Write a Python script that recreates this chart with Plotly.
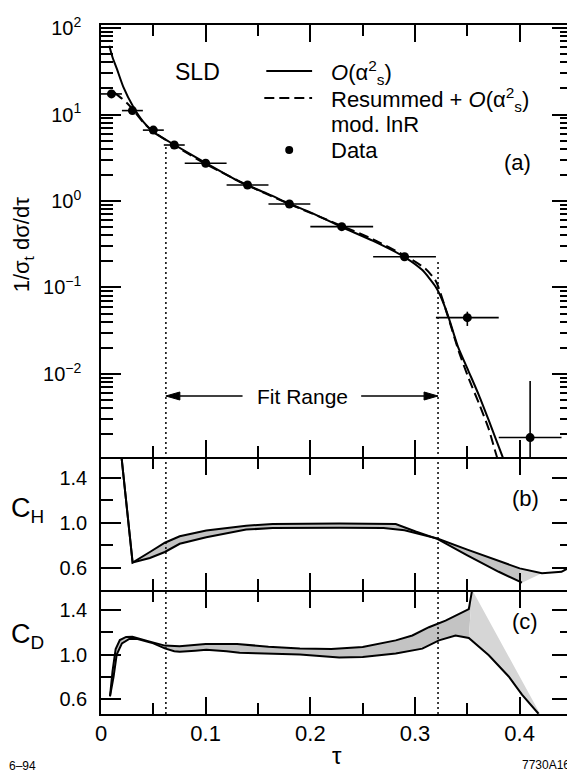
import plotly.graph_objects as go
from plotly.subplots import make_subplots

# ---------------- data ----------------
# panel (a): SLD data points
tau_data = [0.01, 0.03, 0.05, 0.07, 0.10, 0.14, 0.18, 0.23, 0.29, 0.35, 0.41]
y_data = [17.3, 11.1, 6.6, 4.44, 2.73, 1.53, 0.923, 0.505, 0.227, 0.0448, 0.00184]
bin_lo = [0.0, 0.02, 0.04, 0.06, 0.08, 0.12, 0.16, 0.20, 0.26, 0.32, 0.38]
bin_hi = [0.02, 0.04, 0.06, 0.08, 0.12, 0.16, 0.20, 0.26, 0.32, 0.38, 0.44]
y_err_up = [0.3, 0.2, 0.1, 0.07, 0.04, 0.03, 0.02, 0.012, 0.008, 0.0077, 0.00646]
y_err_dn = [0.3, 0.2, 0.1, 0.07, 0.04, 0.03, 0.02, 0.012, 0.008, 0.0089, 0.00134]

# O(alpha_s^2) curve
nlo_tau = [0.0079, 0.011, 0.015, 0.0213, 0.0308, 0.0403, 0.0498, 0.0705, 0.1007, 0.1324,
           0.16, 0.18, 0.20, 0.23, 0.26, 0.29, 0.307, 0.3197, 0.326, 0.3324, 0.341,
           0.3514, 0.361, 0.3705, 0.3838, 0.39]
nlo_val = [62.4, 46.0, 34.2, 20.9, 12.3, 8.26, 6.3, 4.44, 2.73, 1.67,
           1.2, 0.93, 0.74, 0.50, 0.345, 0.225, 0.159, 0.102, 0.0717, 0.044, 0.0207,
           0.0106, 0.0057, 0.0029, 0.00109, 0.0007]

# Resummed + O(alpha_s^2), mod. lnR curve
res_tau = [0.013, 0.02, 0.025, 0.03, 0.04, 0.05, 0.07, 0.10, 0.14, 0.18, 0.23, 0.26,
           0.29, 0.31, 0.32, 0.3324, 0.342, 0.3514, 0.361, 0.3705, 0.3784, 0.385]
res_val = [17.8, 15.3, 13.5, 11.6, 8.2, 6.35, 4.4, 2.68, 1.52, 0.92, 0.515, 0.36,
           0.235, 0.165, 0.118, 0.0425, 0.018, 0.0088, 0.0046, 0.0023, 0.00109, 0.0007]

# panel (b): C_H band edges
ch_a_tau = [0.0192, 0.0302, 0.0467, 0.061, 0.0752, 0.1006, 0.1387, 0.164, 0.2276, 0.2816,
            0.3006, 0.3213, 0.35, 0.38, 0.4022]
ch_a_val = [1.62, 0.648, 0.742, 0.824, 0.882, 0.932, 0.976, 0.99, 0.996, 0.99,
            0.924, 0.859, 0.712, 0.566, 0.469]
ch_b_tau = [0.0192, 0.0302, 0.0467, 0.061, 0.0752, 0.1006, 0.1387, 0.164, 0.2276, 0.27,
            0.29, 0.3213, 0.35, 0.38, 0.40, 0.4213, 0.44, 0.4514]
ch_b_val = [1.62, 0.648, 0.689, 0.742, 0.815, 0.873, 0.941, 0.955, 0.958, 0.955,
            0.935, 0.862, 0.763, 0.66, 0.596, 0.552, 0.566, 0.625]

# panel (c): C_D band edges
cd_u_tau = [0.0086, 0.011, 0.014, 0.018, 0.024, 0.03, 0.045, 0.061, 0.075, 0.10, 0.13,
            0.16, 0.19, 0.22, 0.25, 0.2816, 0.2975, 0.3133, 0.3292, 0.3514, 0.3546]
cd_u_val = [0.626, 0.85, 1.05, 1.13, 1.158, 1.16, 1.12, 1.08, 1.075, 1.095, 1.095,
            1.07, 1.055, 1.05, 1.068, 1.127, 1.171, 1.245, 1.304, 1.407, 1.58]
cd_l_tau = [0.0086, 0.012, 0.015, 0.02, 0.027, 0.035, 0.05, 0.061, 0.07, 0.0752, 0.09,
            0.1006, 0.12, 0.1324, 0.148, 0.19, 0.2276, 0.25, 0.2816, 0.307, 0.3229,
            0.3387, 0.3514, 0.3705, 0.3895, 0.4022, 0.418]
cd_l_val = [0.626, 0.8, 1.0, 1.1, 1.14, 1.14, 1.1, 1.055, 1.03, 1.024, 1.035,
            1.044, 1.03, 1.015, 1.012, 1.0, 0.973, 0.979, 1.009, 1.053, 1.127,
            1.171, 1.148, 0.994, 0.803, 0.64, 0.469]
cd_edge_tau = [0.3546, 0.42]
cd_edge_val = [1.58, 0.46]

fit_range = [0.062, 0.322]

# ticks
log_tickvals = [0.01, 0.1, 1, 10, 100]
log_ticktext = ["10<sup>\u22122</sup>", "10<sup>\u22121</sup>", "10<sup>0</sup>",
                "10<sup>1</sup>", "10<sup>2</sup>"]
log_minor = [m * 10 ** e for e in (-3, -2, -1, 0, 1) for m in range(2, 10)]
c_tickvals = [0.6, 1.0, 1.4]
c_ticktext = ["0.6", "1.0", "1.4"]
c_minor = [0.8, 1.2]

# ---------------- layout helpers (screen pixel -> paper) ----------------
OFF = 8  # page body margin
L, R, T, B = 101, 574, 25, 714   # plot area in screen pixels
AB, BC = 457, 590                # panel boundaries in screen pixels
LW = 1.5                         # axis line width
FIG_W, FIG_H = 575 - OFF, 772 - OFF
W, H = R - L, B - T


def PX(x):
    return (x - L) / W


def PY(y):
    return (B - y) / H


FONT = "Liberation Sans, Arial, Helvetica, sans-serif"
BLACK = "black"
BAND = "#c3c3c3"
BAND_LIGHT = "#d6d6d6"

fig = make_subplots(rows=3, cols=1, shared_xaxes=True, vertical_spacing=0.01,
                    row_heights=[432, 133, 124])

# ---- panel (a) ----
fig.add_trace(go.Scatter(x=nlo_tau, y=nlo_val, mode="lines",
                         line=dict(color=BLACK, width=2, shape="spline", smoothing=0.6),
                         showlegend=False, hoverinfo="skip"), row=1, col=1)
fig.add_trace(go.Scatter(x=res_tau, y=res_val, mode="lines",
                         line=dict(color=BLACK, width=2, dash="10px,5px", shape="spline", smoothing=0.6),
                         showlegend=False, hoverinfo="skip"), row=1, col=1)
fig.add_trace(go.Scatter(
    x=tau_data, y=y_data, mode="markers",
    marker=dict(color=BLACK, size=9),
    error_x=dict(type="data", symmetric=False,
                 array=[h - t for h, t in zip(bin_hi, tau_data)],
                 arrayminus=[t - l for t, l in zip(tau_data, bin_lo)],
                 color=BLACK, thickness=1.6, width=0),
    error_y=dict(type="data", symmetric=False, array=y_err_up, arrayminus=y_err_dn,
                 color=BLACK, thickness=1.6, width=0),
    showlegend=False), row=1, col=1)

# ---- panel (b) ----
b_dark_x = ch_a_tau + [t for t in ch_b_tau if t <= 0.40][::-1]
b_dark_y = ch_a_val + [v for t, v in zip(ch_b_tau, ch_b_val) if t <= 0.40][::-1]
fig.add_trace(go.Scatter(x=b_dark_x, y=b_dark_y, fill="toself", fillcolor=BAND, mode="none",
                         showlegend=False, hoverinfo="skip"), row=2, col=1)
b_light_x = [ch_a_tau[-1]] + [t for t in ch_b_tau if 0.40 <= t <= 0.4213][::-1]
b_light_y = [ch_a_val[-1]] + [v for t, v in zip(ch_b_tau, ch_b_val) if 0.40 <= t <= 0.4213][::-1]
fig.add_trace(go.Scatter(x=b_light_x, y=b_light_y, fill="toself", fillcolor=BAND_LIGHT, mode="none",
                         showlegend=False, hoverinfo="skip"), row=2, col=1)
for xs, ys in ((ch_a_tau, ch_a_val), (ch_b_tau, ch_b_val)):
    fig.add_trace(go.Scatter(x=xs, y=ys, mode="lines", line=dict(color=BLACK, width=2),
                             showlegend=False, hoverinfo="skip"), row=2, col=1)

# ---- panel (c) ----
c_dark_x = cd_u_tau + [t for t in cd_l_tau if t <= 0.3514][::-1]
c_dark_y = cd_u_val + [v for t, v in zip(cd_l_tau, cd_l_val) if t <= 0.3514][::-1]
fig.add_trace(go.Scatter(x=c_dark_x, y=c_dark_y, fill="toself", fillcolor=BAND, mode="none",
                         showlegend=False, hoverinfo="skip"), row=3, col=1)
c_light_x = cd_edge_tau + [t for t in cd_l_tau if t >= 0.3514][::-1]
c_light_y = cd_edge_val + [v for t, v in zip(cd_l_tau, cd_l_val) if t >= 0.3514][::-1]
fig.add_trace(go.Scatter(x=c_light_x, y=c_light_y, fill="toself", fillcolor=BAND_LIGHT, mode="none",
                         showlegend=False, hoverinfo="skip"), row=3, col=1)
for xs, ys in ((cd_u_tau, cd_u_val), (cd_l_tau, cd_l_val)):
    fig.add_trace(go.Scatter(x=xs, y=ys, mode="lines", line=dict(color=BLACK, width=2),
                             showlegend=False, hoverinfo="skip"), row=3, col=1)

# ---------------- axes ----------------
xcommon = dict(range=[0, 0.45], dtick=0.1, tick0=0, ticks="inside", ticklen=17, tickwidth=1.5,
               tickcolor=BLACK, showline=True, linecolor=BLACK, linewidth=LW, mirror="allticks",
               showgrid=False, zeroline=False,
               minor=dict(dtick=0.05, tick0=0, ticks="inside", ticklen=11, tickwidth=1.5, tickcolor=BLACK),
               tickfont=dict(family=FONT, size=22, color=BLACK))
fig.update_xaxes(**xcommon)
fig.update_xaxes(ticklabelstandoff=-1, row=3, col=1)

fig.update_yaxes(type="log", range=[-2.96, 2.035], tickmode="array", tickvals=log_tickvals,
                 ticktext=log_ticktext, ticks="inside", ticklen=20, tickwidth=1.5, tickcolor=BLACK,
                 showline=True, linecolor=BLACK, linewidth=LW, mirror="allticks", showgrid=False,
                 zeroline=False, ticklabelstandoff=14,
                 minor=dict(tickmode="array", tickvals=log_minor, ticks="inside", ticklen=12,
                            tickwidth=1.5, tickcolor=BLACK),
                 tickfont=dict(family=FONT, size=20, color=BLACK), row=1, col=1)
ccommon = dict(tickmode="array", tickvals=c_tickvals, ticktext=c_ticktext, ticks="inside",
               ticklen=20, tickwidth=1.5, tickcolor=BLACK, showline=True, linecolor=BLACK,
               linewidth=LW, mirror="allticks", showgrid=False, zeroline=False, ticklabelstandoff=8,
               minor=dict(tickmode="array", tickvals=c_minor, ticks="inside", ticklen=12,
                          tickwidth=1.5, tickcolor=BLACK),
               tickfont=dict(family=FONT, size=20, color=BLACK))
fig.update_yaxes(range=[0.404, 1.573], row=2, col=1, **ccommon)
fig.update_yaxes(range=[0.467, 1.565], row=3, col=1, **ccommon)

# panel domains: neighbouring frame lines (drawn outside each panel) coincide
fig.update_layout(
    yaxis=dict(domain=[PY(AB), 1.0]),
    yaxis2=dict(domain=[PY(BC), PY(AB + LW)]),
    yaxis3=dict(domain=[0.0, PY(BC + LW)]),
)

# ---------------- shapes ----------------
shapes = []
# fit range dotted lines
for fx, ytop in ((fit_range[0], 146), (fit_range[1], 262)):
    shapes.append(dict(type="line", xref="x", yref="paper", x0=fx, x1=fx, y0=0, y1=PY(ytop),
                       line=dict(color=BLACK, width=1.5, dash="2px,3px")))
# fit range arrows
ya = PY(396)
hl = 14 / 1050.0
hh = 4.0 / H
shapes.append(dict(type="line", xref="x", yref="paper", x0=(243 - L) / 1050.0, x1=fit_range[0] + hl,
                   y0=ya, y1=ya, line=dict(color=BLACK, width=1.5)))
shapes.append(dict(type="line", xref="x", yref="paper", x0=(362 - L) / 1050.0, x1=fit_range[1] - hl,
                   y0=ya, y1=ya, line=dict(color=BLACK, width=1.5)))
shapes.append(dict(type="path", xref="x", yref="paper",
                   path=f"M{fit_range[0]},{ya} L{fit_range[0] + hl},{ya + hh} L{fit_range[0] + hl},{ya - hh} Z",
                   fillcolor=BLACK, line=dict(color=BLACK, width=1)))
shapes.append(dict(type="path", xref="x", yref="paper",
                   path=f"M{fit_range[1]},{ya} L{fit_range[1] - hl},{ya + hh} L{fit_range[1] - hl},{ya - hh} Z",
                   fillcolor=BLACK, line=dict(color=BLACK, width=1)))
# legend samples
shapes.append(dict(type="line", xref="paper", yref="paper", x0=PX(267), x1=PX(313), y0=PY(71), y1=PY(71),
                   line=dict(color=BLACK, width=2)))
shapes.append(dict(type="line", xref="paper", yref="paper", x0=PX(265), x1=PX(313), y0=PY(98), y1=PY(98),
                   line=dict(color=BLACK, width=2, dash="10px,5px")))
shapes.append(dict(type="circle", xref="paper", yref="paper", x0=PX(286), x1=PX(294), y0=PY(154), y1=PY(146),
                   fillcolor=BLACK, line=dict(color=BLACK, width=0)))
fig.update_layout(shapes=shapes)

# ---------------- annotations ----------------
def ann(text, x, y, size, xanchor="center", yanchor="middle", angle=0):
    return dict(text=text, x=PX(x), y=PY(y), xref="paper", yref="paper", showarrow=False,
                xanchor=xanchor, yanchor=yanchor, textangle=angle,
                font=dict(family=FONT, size=size, color=BLACK))


OA = "<i>O</i>(\u03b1<sup>2</sup><sub>s</sub>)"
annotations = [
    ann("SLD", 198, 72, 23),
    ann(OA, 330, 72, 22, xanchor="left"),
    ann("Resummed + " + OA, 330, 99, 22, xanchor="left"),
    ann("mod. lnR", 330, 124, 22, xanchor="left"),
    ann("Data", 330, 150, 22, xanchor="left"),
    ann("(a)", 519, 162, 22),
    ann("(b)", 527, 498, 22),
    ann("(c)", 527, 621, 22),
    ann("Fit Range", 303, 396, 21),
    ann("1/\u03c3<sub>t</sub> d\u03c3/d\u03c4", 23, 245, 22, angle=-90),
    ann("C<sub>H</sub>", 27, 510, 27),
    ann("C<sub>D</sub>", 27, 636, 27),
    ann("\u03c4", 338, 755, 24),
    ann("6\u201394", 22, 766, 12),
    ann("7730A16", 548, 765, 12),
]
fig.update_layout(annotations=annotations)

fig.update_layout(width=FIG_W, height=FIG_H,
                  margin=dict(l=L - OFF, r=FIG_W - (R - OFF), t=T - OFF, b=FIG_H - (B - OFF)),
                  paper_bgcolor="white", plot_bgcolor="white", showlegend=False,
                  font=dict(family=FONT, color=BLACK))

fig.write_html("out.html")
